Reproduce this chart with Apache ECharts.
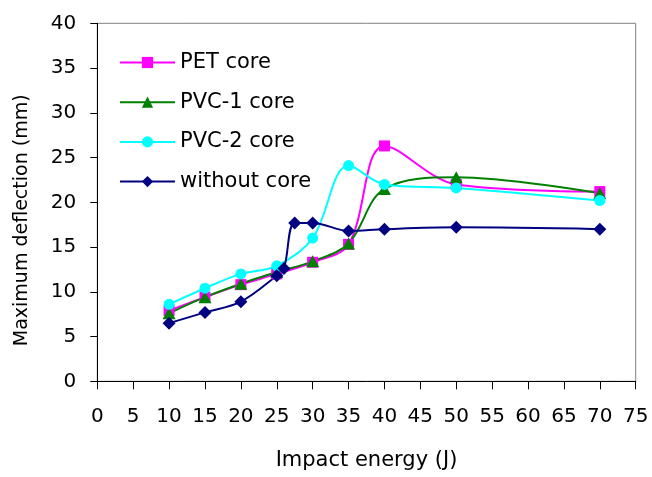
<!DOCTYPE html>
<html>
<head>
<meta charset="utf-8">
<script src="https://cdn.jsdelivr.net/npm/echarts@6/dist/echarts.min.js"></script>
<style>
  html, body { margin: 0; padding: 0; background: #fff; }
  #chart { width: 652px; height: 477px; }
</style>
</head>
<body>
<div id="chart"></div>
<script>
// Impact energy (J) at which each sandwich panel was tested
const energy = [10, 15, 20, 25, 30, 35, 40, 50, 70];
// Maximum deflection (mm) per core type
const petCore = [7.9, 9.4, 10.8, 12.0, 13.3, 15.3, 26.3, 22.0, 21.2];
const pvc1Core = [7.6, 9.4, 10.9, 12.2, 13.4, 15.4, 21.5, 22.8, 21.0];
const pvc2Core = [8.6, 10.4, 12.0, 12.9, 16.0, 24.1, 22.0, 21.6, 20.2];
// Panels without core were tested at a few extra energies
const noCoreEnergy = [10, 15, 20, 25, 26, 27.5, 30, 35, 40, 50, 70];
const noCore = [6.5, 7.7, 8.9, 11.8, 12.6, 17.7, 17.7, 16.8, 17.0, 17.2, 17.0];

const seriesNames = ['PET core', 'PVC-1 core', 'PVC-2 core', 'without core'];
const FONT = 'DejaVu Sans';

function pairs(xs, ys) {
  return xs.map((x, i) => [x, ys[i]]);
}

function lineSeries(name, data, color, symbol, size) {
  return {
    name: name,
    type: 'line',
    data: data,
    smooth: 0.35,
    symbol: symbol,
    symbolSize: size,
    showSymbol: true,
    lineStyle: { color: color, width: 2 },
    itemStyle: { color: color },
    emphasis: { disabled: true },
    animation: false
  };
}

const chart = echarts.init(document.getElementById('chart'));
chart.setOption({
  backgroundColor: '#fff',
  animation: false,
  grid: {
    left: 97.3, right: 16.3, top: 23.3, bottom: 95.7,
    show: true, borderColor: '#808080', borderWidth: 1,
    backgroundColor: 'transparent',
    outerBoundsMode: 'none'
  },
  legend: {
    data: seriesNames,
    orient: 'vertical',
    left: 119, top: 52,
    padding: 0,
    itemWidth: 55, itemHeight: 14, itemGap: 18.7,
    textStyle: { fontFamily: FONT, fontSize: 21, color: '#000', lineHeight: 14 }
  },
  xAxis: {
    type: 'value', min: 0, max: 75, interval: 5,
    name: 'Impact energy (J)', nameLocation: 'middle', nameGap: 68.5,
    nameTextStyle: { fontFamily: FONT, fontSize: 21, color: '#000', lineHeight: 21 },
    axisLine: { show: true, onZero: false, lineStyle: { color: '#000', width: 1 } },
    axisTick: { show: true, inside: false, length: 8, lineStyle: { color: '#000' } },
    axisLabel: { fontFamily: FONT, fontSize: 20, color: '#000', margin: 25, lineHeight: 20 },
    splitLine: { show: false }
  },
  yAxis: {
    type: 'value', min: 0, max: 40, interval: 5,
    name: 'Maximum deflection (mm)', nameLocation: 'middle', nameGap: 65,
    nameTextStyle: { fontFamily: FONT, fontSize: 19, color: '#000', lineHeight: 20, padding: [0, 36, 0, 0] },
    axisLine: { show: true, onZero: false, lineStyle: { color: '#000', width: 1 } },
    axisTick: { show: true, inside: false, length: 7, lineStyle: { color: '#000' } },
    axisLabel: { fontFamily: FONT, fontSize: 20, color: '#000', margin: 21 },
    splitLine: { show: false }
  },
  series: [
    lineSeries(seriesNames[0], pairs(energy, petCore), '#FF00FF', 'rect', 11),
    lineSeries(seriesNames[1], pairs(energy, pvc1Core), '#008000', 'triangle', [13, 12]),
    lineSeries(seriesNames[2], pairs(energy, pvc2Core), '#00FFFF', 'circle', 11),
    lineSeries(seriesNames[3], pairs(noCoreEnergy, noCore), '#000080', 'diamond', 13)
  ]
});
</script>
</body>
</html>
